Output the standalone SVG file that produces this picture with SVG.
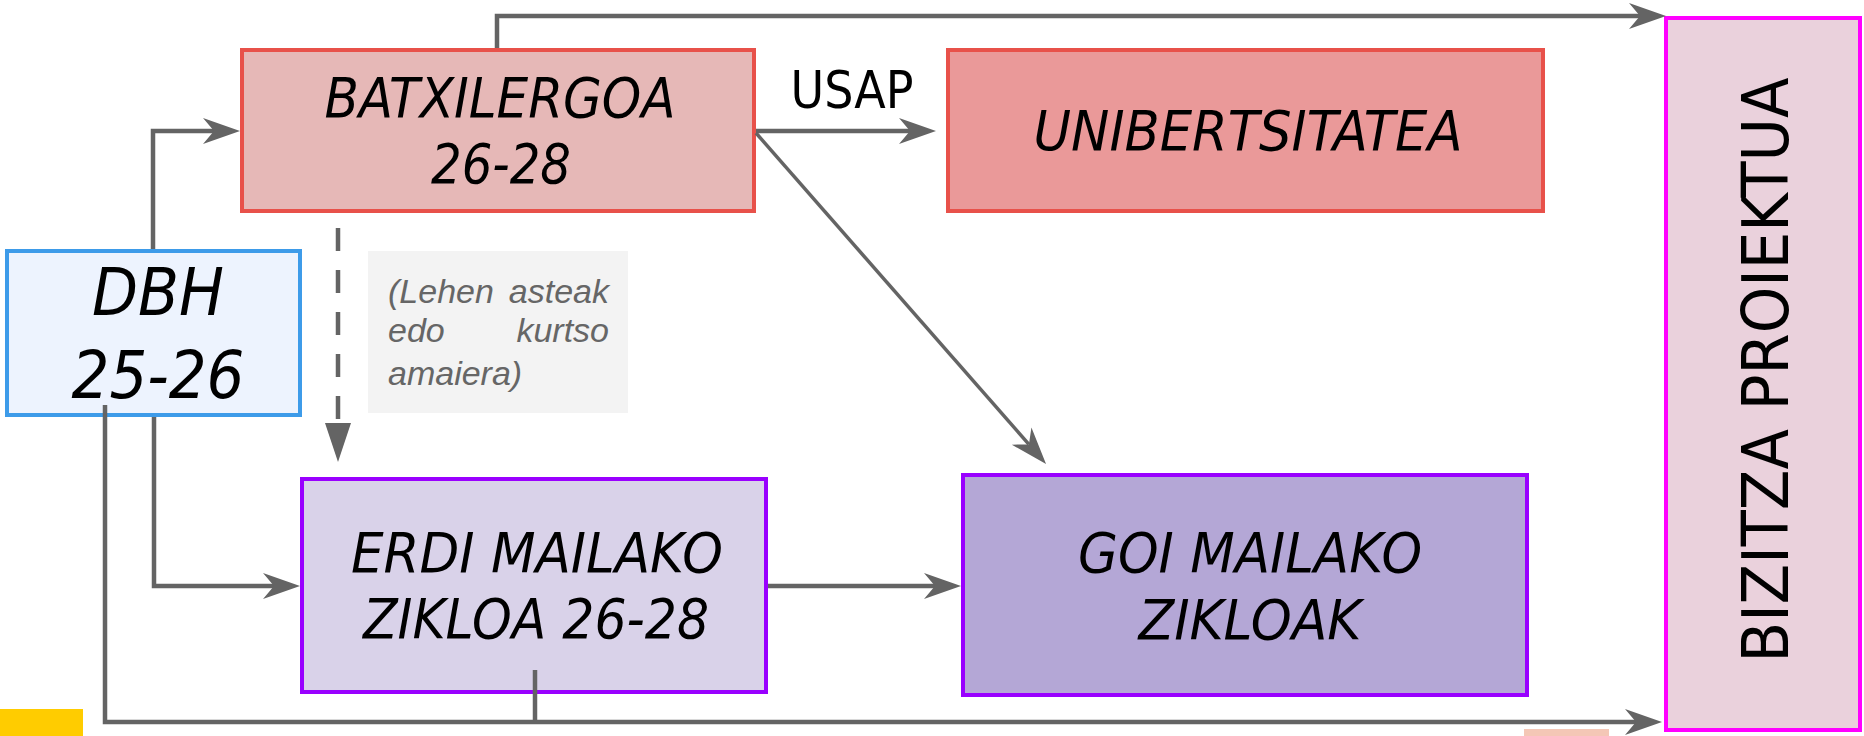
<svg xmlns="http://www.w3.org/2000/svg" width="1864" height="736" viewBox="0 0 1864 736">
<defs>
<style>
.box{stroke-width:4}
.red{stroke:#e8514a}
.violet{stroke:#9900ff}
.t{font-family:"DejaVu Sans Condensed","DejaVu Sans",sans-serif;font-stretch:condensed;font-style:italic;fill:#000;text-anchor:middle}
.note{font-family:"Liberation Sans",Arial,sans-serif;font-style:italic;font-size:34px;fill:#666666}
.c{fill:none;stroke:#646464;stroke-width:4.5}
</style>
<marker id="ah" markerUnits="userSpaceOnUse" orient="auto" markerWidth="42" markerHeight="32" viewBox="-13 -15 42 30" refX="0" refY="0">
<path d="M-11,-13 L26,0 L-11,13 L0,0 Z" fill="#646464"/>
</marker>
<marker id="ahp" markerUnits="userSpaceOnUse" orient="auto" markerWidth="42" markerHeight="32" viewBox="-2 -15 42 30" refX="0" refY="0">
<path d="M0,-13 L39,0 L0,13 Z" fill="#646464"/>
</marker>
</defs>
<rect width="1864" height="736" fill="#ffffff"/>
<rect x="0" y="709" width="83" height="27" fill="#ffcc00"/>
<rect x="1524" y="729" width="85" height="7" fill="#f4c7b6"/>

<g id="dbh">
<rect class="box" x="7" y="251" width="293" height="164" fill="#edf3fe" stroke="#3d9be9"/>
<text class="t" x="158" y="315" font-size="66" textLength="132" lengthAdjust="spacingAndGlyphs">DBH</text>
<text class="t" x="158" y="398" font-size="66" textLength="173" lengthAdjust="spacingAndGlyphs">25-26</text>
</g>
<g id="batxilergoa">
<rect class="box red" x="242" y="50" width="512" height="161" fill="#e6b8b7"/>
<text class="t" x="500" y="117" font-size="56" textLength="351" lengthAdjust="spacingAndGlyphs">BATXILERGOA</text>
<text class="t" x="501" y="183" font-size="56" textLength="140" lengthAdjust="spacingAndGlyphs">26-28</text>
</g>
<g id="unibertsitatea">
<rect class="box red" x="948" y="50" width="595" height="161" fill="#ea9999"/>
<text class="t" x="1248" y="150" font-size="56" textLength="429" lengthAdjust="spacingAndGlyphs">UNIBERTSITATEA</text>
</g>
<g id="oharra">
<rect x="368" y="251" width="260" height="162" fill="#f3f3f3"/>
<text class="note" x="388" y="303">(Lehen</text>
<text class="note" x="609" y="303" text-anchor="end">asteak</text>
<text class="note" x="388" y="342">edo</text>
<text class="note" x="609" y="342" text-anchor="end">kurtso</text>
<text class="note" x="388" y="385">amaiera)</text>
</g>
<g id="erdi-mailako">
<rect class="box violet" x="302" y="479" width="464" height="213" fill="#d9d2e9"/>
<text class="t" x="537" y="572" font-size="56" textLength="372" lengthAdjust="spacingAndGlyphs">ERDI MAILAKO</text>
<text class="t" x="536" y="638" font-size="56" textLength="346" lengthAdjust="spacingAndGlyphs">ZIKLOA 26-28</text>
</g>
<g id="goi-mailako">
<rect class="box violet" x="963" y="475" width="564" height="220" fill="#b4a7d6"/>
<text class="t" x="1250" y="572" font-size="56" textLength="344" lengthAdjust="spacingAndGlyphs">GOI MAILAKO</text>
<text class="t" x="1250" y="639" font-size="56" textLength="223" lengthAdjust="spacingAndGlyphs">ZIKLOAK</text>
</g>
<g id="bizitza-proiektua">
<rect class="box" x="1666" y="18" width="194" height="712" fill="#ead1dc" stroke="#ff00ff"/>
<text x="0" y="0" transform="translate(1788,370) rotate(-90)" font-family="'DejaVu Sans',sans-serif" font-size="64" text-anchor="middle" textLength="585" lengthAdjust="spacingAndGlyphs" fill="#000">BIZITZA PROIEKTUA</text>
</g>

<g id="connectors">
<path class="c" d="M497,48 V16 H1640" marker-end="url(#ah)"/>
<path class="c" d="M153,249 V131 H214" marker-end="url(#ah)"/>
<path class="c" d="M756,131 H910" marker-end="url(#ah)"/>
<path class="c" d="M756,133 L1028.9,444.4" style="stroke-width:3.5" marker-end="url(#ah)"/>
<path class="c" d="M338,228 V423" stroke-dasharray="23 19" marker-end="url(#ahp)"/>
<path class="c" d="M154,417 V586 H274" marker-end="url(#ah)"/>
<path class="c" d="M768,586 H935" marker-end="url(#ah)"/>
<path class="c" d="M105,405 V722 H1636" marker-end="url(#ah)"/>
<path class="c" d="M535,670 V722"/>
<text x="852" y="108" font-family="'DejaVu Sans Condensed','DejaVu Sans',sans-serif" font-stretch="condensed" font-size="52" text-anchor="middle" textLength="123" lengthAdjust="spacingAndGlyphs" fill="#000">USAP</text>
</g>
</svg>
